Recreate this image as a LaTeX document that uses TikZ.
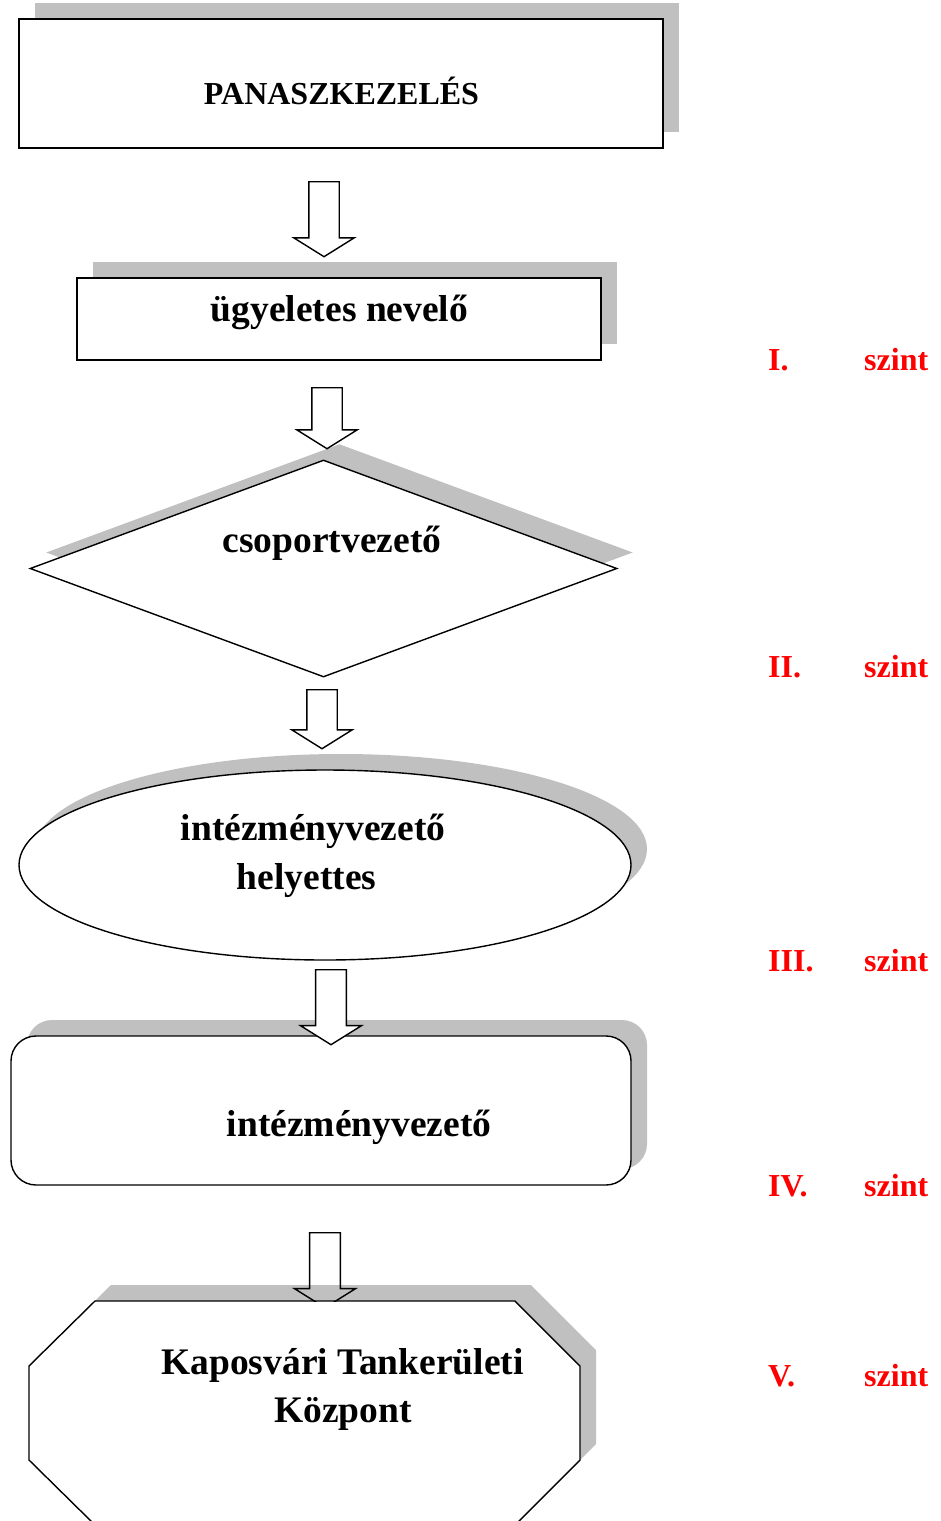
\documentclass[tikz,border=0pt]{standalone}
\usepackage{fontspec}
\setmainfont{Liberation Serif}
\usetikzlibrary{shapes.geometric,shapes.arrows,shadows,positioning}
\definecolor{shadowgray}{RGB}{192,192,192}
\definecolor{lvlred}{RGB}{255,0,0}
\tikzset{
    shadowed/.style={
    drop shadow={shadow xshift=16pt,shadow yshift=16pt,fill=shadowgray,opacity=1}
    },
    flowbox/.style={
    rectangle,draw=black,line width=1.4pt,fill=white,inner sep=0pt,shadowed
    },
    flowround/.style={
    rectangle,rounded corners=25pt,draw=black,line width=1.4pt,fill=white,inner sep=0pt,shadowed
    },
    flowdiamond/.style={
    diamond,draw=black,line width=1.4pt,fill=white,inner sep=0pt,shadowed
    },
    flowellipse/.style={
    ellipse,draw=black,line width=1.4pt,fill=white,inner sep=0pt,shadowed
    },
    flowoct/.style={
    draw=black,line width=1.4pt,fill=white,shadowed
    },
  blockarrow/.style={single arrow, draw=black, line width=1.4pt, fill=white, shape border rotate=270, inner sep=14.5pt, single arrow head extend=15pt, single arrow tip angle=116, minimum width=58pt, anchor=tail},
  boxtxt/.style={font=\fontsize{37.5}{48}\selectfont\bfseries, anchor=base, inner sep=0pt},
  lvl/.style={text=lvlred, font=\fontsize{32}{38}\selectfont\bfseries, anchor=base west, inner sep=0pt},
}

\begin{document}
\begin{tikzpicture}[x=1pt,y=-1pt]
\useasboundingbox (0,0) rectangle (940,1521);

  % levels of the complaint handling
  \node[flowbox, minimum width=644pt, minimum height=129pt] (panasz) at (341,83.5) {};
  \node[boxtxt, font=\fontsize{32}{38}\selectfont\bfseries] (panaszT) at (341.5,104) {PANASZKEZELÉS};
  \node[flowbox, minimum width=524pt, minimum height=82pt] (ugy) at (339,319) {};
  \node[boxtxt] (ugyT) at (339.5,321) {ügyeletes nevelő};
  \node[flowdiamond, minimum width=587pt, minimum height=217pt] (csop) at (323.5,568.5) {};
  \node[boxtxt] (csopT) at (332,552) {csoportvezető};
  \node[flowellipse, minimum width=612pt, minimum height=190pt] (hely) at (325,865) {};
  \node[boxtxt] (helyT) at (313,840) {intézményvezető};
  \node[boxtxt] (helyT2) at (306.5,889) {helyettes};
  \node[flowround, minimum width=620pt, minimum height=149pt] (vez) at (321,1110.5) {};
  \node[boxtxt] (vezT) at (359,1136) {intézményvezető};
  % octagon, its lower edge runs off the page
  \coordinate (tktop) at (304.5,1301);
  \path[flowoct] (95,1301) -- (515,1301) -- (580,1366) -- (580,1460) -- (515,1525)
    -- (95,1525) -- (29,1460) -- (29,1366) -- cycle;
  \node[boxtxt] (tkT) at (342.5,1374) {Kaposvári Tankerületi};
  \node[boxtxt] (tkT2) at (343,1422) {Központ};

  % block arrows
  \node[blockarrow, minimum height=75pt] (a1) at (324,181) {};
  \node[blockarrow, minimum height=61pt] (a2) at (327,387) {};
  \node[blockarrow, minimum height=59pt] (a3) at (322,689) {};
  \node[blockarrow, minimum height=75pt, minimum width=61pt] (a4) at (331,969) {};
  \begin{scope}
  \clip (0,0) rectangle (tktop -| 940,0);
  \node[blockarrow, fill=none, minimum height=75pt, minimum width=61pt] (a5) at (325,1232) {};
  \end{scope}

  % szintek
  \node[lvl] (lvlI) at (768,370) {I.};
  \node[lvl] (szintI) at (864,370) {szint};
  \node[lvl] (lvlII) at (768,677) {II.};
  \node[lvl] (szintII) at (864,677) {szint};
  \node[lvl] (lvlIII) at (768,971) {III.};
  \node[lvl] (szintIII) at (864,971) {szint};
  \node[lvl] (lvlIV) at (768,1196) {IV.};
  \node[lvl] (szintIV) at (864,1196) {szint};
  \node[lvl] (lvlV) at (768,1386) {V.};
  \node[lvl] (szintV) at (864,1386) {szint};
\end{tikzpicture}
\end{document}
